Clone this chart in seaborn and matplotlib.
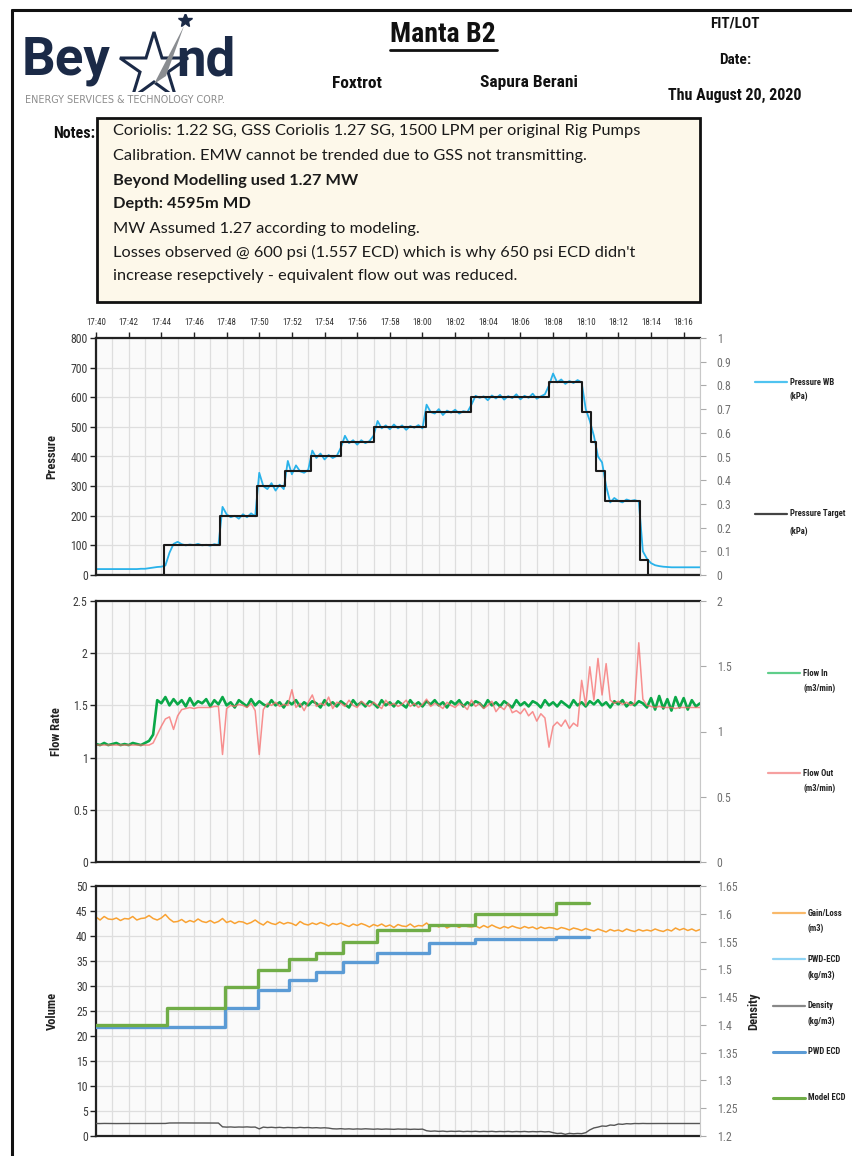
import numpy as np
import pandas as pd
import seaborn as sns
import matplotlib
matplotlib.use("Agg")
import matplotlib.pyplot as plt
from matplotlib.lines import Line2D
from matplotlib.patches import Rectangle, Polygon
from matplotlib.ticker import MultipleLocator

# ---------------- DATA (15-second samples, minutes after 17:40) ----------------
time_labels = ["17:40", "17:42", "17:44", "17:46", "17:48", "17:50", "17:52", "17:54",
               "17:56", "17:58", "18:00", "18:02", "18:04", "18:06", "18:08", "18:10",
               "18:12", "18:14", "18:16"]
time_label_minutes = [0, 2, 4, 6, 8, 10, 12, 14, 16, 18, 20, 22, 24, 26, 28, 30, 32, 34, 36]

pressure_wb = [
    20, 20, 20, 20,   20, 20, 20, 20,   20, 20, 20, 21,   21, 23, 25, 27,
    28, 32, 75, 105,  112, 104, 100, 103, 101, 105, 100, 102, 99, 104, 101, 230,
    205, 195, 200, 190, 205, 195, 208, 198, 345, 300, 290, 310, 285, 305, 290, 385,
    340, 370, 350, 345, 355, 420, 395, 410, 390, 405, 395, 402, 430, 470, 445, 455,
    440, 455, 445, 452, 470, 520, 495, 505, 492, 508, 495, 505, 490, 503, 497, 506,
    495, 575, 550, 545, 560, 540, 555, 548, 558, 545, 553, 550, 575, 605, 598, 603,
    590, 606, 596, 608, 592, 604, 597, 610, 593, 605, 598, 612, 595, 603, 610, 640,
    680, 650, 660, 645, 655, 648, 658, 650, 560, 520, 470, 400, 380, 300, 245, 260,
    250, 245, 255, 250, 253, 248, 80, 55,  40, 33, 30, 28,   27, 26, 26, 26,
    26, 26, 26, 26,   26]

target_minutes = [0, 4.15, 7.6, 9.85, 11.55, 13.2, 15.0, 17.05, 20.2, 23.0, 27.75,
                  29.8, 30.3, 30.65, 31.2, 33.3, 33.8, 37]
target_values = [0, 100, 200, 300, 350, 400, 450, 500, 550, 600, 650,
                 550, 450, 350, 250, 50, 0, 0]

flow_in = [
    1.13, 1.12, 1.14, 1.12, 1.13, 1.14, 1.12, 1.13, 1.12, 1.14, 1.13, 1.12,
    1.14, 1.16, 1.22, 1.55, 1.52, 1.58, 1.50, 1.56, 1.51, 1.55, 1.49, 1.57,
    1.50, 1.54, 1.52, 1.56, 1.49, 1.55, 1.51, 1.58, 1.50, 1.53, 1.48, 1.55,
    1.52, 1.49, 1.56, 1.50, 1.54, 1.51, 1.49, 1.55, 1.50, 1.53, 1.48, 1.54,
    1.51, 1.55, 1.49, 1.53, 1.50, 1.54, 1.52, 1.48, 1.55, 1.50, 1.53, 1.49,
    1.54, 1.51, 1.48, 1.55, 1.50, 1.53, 1.49, 1.54, 1.52, 1.48, 1.55, 1.50,
    1.53, 1.49, 1.54, 1.51, 1.48, 1.55, 1.50, 1.53, 1.49, 1.54, 1.51, 1.55,
    1.50, 1.53, 1.48, 1.54, 1.51, 1.55, 1.49, 1.53, 1.50, 1.54, 1.52, 1.48,
    1.55, 1.50, 1.53, 1.49, 1.54, 1.51, 1.48, 1.55, 1.50, 1.53, 1.49, 1.54,
    1.52, 1.48, 1.55, 1.50, 1.53, 1.49, 1.54, 1.51, 1.48, 1.55, 1.50, 1.53,
    1.49, 1.54, 1.51, 1.55, 1.50, 1.53, 1.48, 1.54, 1.51, 1.55, 1.49, 1.53,
    1.50, 1.54, 1.52, 1.48, 1.57, 1.46, 1.59, 1.47, 1.56, 1.45, 1.58, 1.48,
    1.57, 1.46, 1.55, 1.49, 1.52]

flow_out = [
    1.12, 1.12, 1.12, 1.12, 1.12, 1.12, 1.12, 1.12, 1.12, 1.12, 1.12, 1.12,
    1.12, 1.12, 1.14, 1.22, 1.30, 1.37, 1.39, 1.27, 1.40, 1.46, 1.47, 1.48,
    1.47, 1.48, 1.48, 1.48, 1.48, 1.49, 1.49, 1.03, 1.47, 1.50, 1.49, 1.51,
    1.50, 1.48, 1.52, 1.45, 1.03, 1.46, 1.52, 1.50, 1.53, 1.49, 1.51, 1.50,
    1.65, 1.48, 1.52, 1.45, 1.53, 1.60, 1.49, 1.52, 1.50, 1.58, 1.47, 1.53,
    1.52, 1.49, 1.55, 1.50, 1.48, 1.54, 1.51, 1.49, 1.53, 1.50, 1.47, 1.55,
    1.50, 1.52, 1.49, 1.51, 1.55, 1.49, 1.52, 1.48, 1.51, 1.56, 1.49, 1.52,
    1.50, 1.47, 1.53, 1.50, 1.48, 1.52, 1.50, 1.46, 1.55, 1.49, 1.52, 1.47,
    1.50, 1.54, 1.44, 1.49, 1.46, 1.52, 1.43, 1.45, 1.42, 1.47, 1.40, 1.44,
    1.35, 1.42, 1.38, 1.10, 1.30, 1.34, 1.30, 1.36, 1.28, 1.33, 1.30, 1.74,
    1.50, 1.87, 1.55, 1.95, 1.60, 1.90, 1.55, 1.52, 1.54, 1.51, 1.53, 1.50,
    1.52, 2.10, 1.56, 1.50, 1.49, 1.48, 1.49, 1.48, 1.48, 1.48, 1.47, 1.48,
    1.48, 1.48, 1.48, 1.48, 1.48]

gain_loss = [
    43.8, 43.2, 43.9, 43.4, 43.3, 43.6, 43.1, 43.5, 43.4, 43.9, 43.2, 43.5,
    43.6, 44.1, 43.5, 43.2, 43.6, 44.3, 43.4, 42.8, 42.9, 43.3, 42.7, 43.1,
    42.8, 43.4, 42.9, 42.7, 43.1, 42.6, 42.9, 43.5, 42.7, 43.0, 42.5, 42.9,
    42.8, 42.4, 42.7, 43.2, 42.6, 42.2, 42.9, 42.5, 42.3, 42.8, 42.4, 42.7,
    42.5, 42.1, 42.9, 42.4, 42.2, 42.6, 42.3, 42.7, 42.4, 42.0, 42.5, 42.3,
    42.6, 42.2, 41.9, 42.4, 42.1, 42.5, 42.2, 41.8, 42.3, 42.0, 42.4, 41.9,
    42.2, 41.7, 42.3, 42.0, 41.9, 42.4, 41.8, 42.1, 42.0, 42.6, 41.9, 42.2,
    41.8, 42.3, 41.6, 42.0, 42.1, 41.7, 42.2, 41.9, 41.8, 42.0, 41.6, 42.1,
    41.7, 42.2, 41.8, 41.5, 41.9, 41.6, 42.0, 41.7, 41.5, 41.9, 41.6, 41.8,
    41.4, 41.8, 41.5, 41.7, 41.6, 41.3, 41.7, 41.5, 41.2, 41.6, 41.4, 41.1,
    41.5, 41.2, 41.0, 41.4, 41.1, 40.8, 41.3, 41.0, 41.2, 40.9, 41.4, 41.1,
    40.9, 41.3, 41.0, 41.2, 41.0, 41.4, 41.1, 40.9, 41.3, 41.0, 41.6, 41.2,
    41.5, 41.1, 41.4, 41.0, 41.3]

density = [
    1.2225, 1.2224, 1.2226, 1.2225, 1.2225, 1.2224, 1.2225, 1.2226,
    1.2225, 1.2224, 1.2225, 1.2225, 1.2226, 1.2225, 1.2224, 1.2225,
    1.2225, 1.2226, 1.2234, 1.2235, 1.2234, 1.2235, 1.2234, 1.2233,
    1.2234, 1.2235, 1.2234, 1.2234, 1.2235, 1.2234, 1.2233, 1.2165,
    1.2160, 1.2163, 1.2158, 1.2162, 1.2160, 1.2164, 1.2159, 1.2161,
    1.2128, 1.2160, 1.2152, 1.2157, 1.2150, 1.2156, 1.2148, 1.2154,
    1.2151, 1.2147, 1.2155, 1.2149, 1.2153, 1.2146, 1.2150, 1.2144,
    1.2148, 1.2142, 1.2130, 1.2127, 1.2132, 1.2125, 1.2129, 1.2123,
    1.2128, 1.2124, 1.2130, 1.2126, 1.2122, 1.2127, 1.2121, 1.2126,
    1.2124, 1.2120, 1.2126, 1.2122, 1.2125, 1.2119, 1.2123, 1.2120,
    1.2124, 1.2095, 1.2085, 1.2090, 1.2083, 1.2088, 1.2080, 1.2086,
    1.2082, 1.2087, 1.2079, 1.2084, 1.2080, 1.2085, 1.2078, 1.2083,
    1.2079, 1.2084, 1.2077, 1.2082, 1.2078, 1.2083, 1.2076, 1.2081,
    1.2077, 1.2082, 1.2075, 1.2080, 1.2076, 1.2081, 1.2074, 1.2079,
    1.2060, 1.2045, 1.2050, 1.2030, 1.2048, 1.2040, 1.2046, 1.2042,
    1.2060, 1.2110, 1.2145, 1.2160, 1.2180, 1.2175, 1.2198, 1.2192,
    1.2216, 1.2210, 1.2222, 1.2218, 1.2225, 1.2223, 1.2226, 1.2224,
    1.2225, 1.2224, 1.2225, 1.2225, 1.2225, 1.2225, 1.2225, 1.2225,
    1.2225, 1.2225, 1.2225, 1.2225, 1.2225]

model_ecd_minutes = [0, 4.33, 7.9, 9.95, 11.8, 13.5, 15.16, 17.2, 20.4, 23.2, 28.2, 30.2]
model_ecd_values = [1.399, 1.430, 1.469, 1.499, 1.519, 1.530, 1.549, 1.570, 1.579, 1.600, 1.620, 1.620]
pwd_ecd_minutes = [0, 7.9, 9.95, 11.8, 13.5, 15.16, 17.2, 20.4, 23.2, 28.2, 30.2]
pwd_ecd_values = [1.397, 1.431, 1.463, 1.481, 1.496, 1.514, 1.530, 1.547, 1.555, 1.558, 1.558]

# ---------------- STYLE ----------------
sns.set_theme(style="white")
COND = ["Liberation Sans Narrow", "DejaVu Sans Condensed", "Roboto Condensed", "DejaVu Sans"]
plt.rcParams["font.family"] = COND
plt.rcParams["axes.unicode_minus"] = False

W, H = 852, 1156
fig = plt.figure(figsize=(W / 100, H / 100), dpi=100)
fig.patch.set_facecolor("white")


def fx(x):
    return x / W


def fy(y):
    return 1 - y / H


def axes_rect(left, top, right, bottom):
    return [fx(left), fy(bottom), fx(right) - fx(left), fy(top) - fy(bottom)]


t = np.arange(len(pressure_wb)) * 0.25
df_p = pd.DataFrame({"t": t, "wb": pressure_wb})
df_tg = pd.DataFrame({"t": target_minutes, "v": target_values})
df_f = pd.DataFrame({"t": t, "fin": flow_in, "fout": flow_out})
df_v = pd.DataFrame({"t": t, "gain": gain_loss, "dens": density})
df_m = pd.DataFrame({"t": model_ecd_minutes, "v": model_ecd_values})
df_w = pd.DataFrame({"t": pwd_ecd_minutes, "v": pwd_ecd_values})

GRID = "#dedede"
XMAX = 37.0


def style_axes(ax, axr, top_labels=False):
    ax.set_facecolor("#fafafa")
    ax.set_xlim(0, XMAX)
    ax.xaxis.set_major_locator(MultipleLocator(2))
    ax.xaxis.set_minor_locator(MultipleLocator(1))
    ax.grid(True, which="both", axis="x", color=GRID, lw=0.9)
    ax.grid(True, which="major", axis="y", color=GRID, lw=0.9)
    ax.set_axisbelow(True)
    for s in ["left", "bottom", "top"]:
        ax.spines[s].set_color("#222222")
        ax.spines[s].set_linewidth(1.6)
        axr.spines[s].set_visible(False)
    ax.spines["right"].set_visible(False)
    axr.spines["right"].set_color("#c8c8c8")
    axr.spines["right"].set_linewidth(0.8)
    ax.tick_params(axis="y", which="major", direction="out", length=4, width=1.0,
                   color="#222222", labelsize=8.5, labelcolor="#3a3a3a", pad=2, left=True)
    axr.tick_params(axis="y", direction="out", length=4, width=0.8, color="#aaaaaa",
                    labelsize=8.5, labelcolor="#707070", pad=8, right=True)
    if top_labels:
        ax.xaxis.tick_top()
        ax.set_xticks(time_label_minutes)
        ax.set_xticklabels(time_labels)
        ax.tick_params(axis="x", which="major", direction="out", length=4, width=1.0,
                       color="#222222", labelsize=6.5, labelcolor="#333333", pad=4, top=True)
        ax.tick_params(axis="x", which="minor", length=0)
    else:
        ax.tick_params(axis="x", which="both", length=0, labelbottom=False, labeltop=False)
    ax.set_xlabel("")
    axr.set_xlabel("")


# ---------------- PANEL 1: Pressure ----------------
ax1 = fig.add_axes(axes_rect(96, 338, 700, 575))
ax1r = ax1.twinx()
sns.lineplot(data=df_p, x="t", y="wb", ax=ax1, color="#29b2ea", lw=1.3, estimator=None)
sns.lineplot(data=df_tg, x="t", y="v", ax=ax1, color="#1a1a1a", lw=1.5, estimator=None,
             drawstyle="steps-post")
ax1.set_ylim(0, 800)
ax1.set_yticks(np.arange(0, 801, 100))
ax1r.set_ylim(0, 1)
ax1r.set_yticks(np.round(np.arange(0, 1.01, 0.1), 1))
ax1r.set_yticklabels(["0", "0.1", "0.2", "0.3", "0.4", "0.5", "0.6", "0.7", "0.8", "0.9", "1"])
style_axes(ax1, ax1r, top_labels=True)
ax1.set_ylabel("Pressure", fontsize=9, fontweight="bold", color="#222222")
ax1.yaxis.set_label_coords(-0.062, 0.5)
ax1r.set_ylabel("")

# ---------------- PANEL 2: Flow ----------------
ax2 = fig.add_axes(axes_rect(96, 601, 700, 862))
ax2r = ax2.twinx()
sns.lineplot(data=df_f, x="t", y="fin", ax=ax2, color="#0aa848", lw=1.9, estimator=None)
sns.lineplot(data=df_f, x="t", y="fout", ax=ax2, color="#f76b6b", lw=1.1, alpha=0.75,
             estimator=None)
ax2.set_ylim(0, 2.5)
ax2.set_yticks([0, 0.5, 1, 1.5, 2, 2.5])
ax2.set_yticklabels(["0", "0.5", "1", "1.5", "2", "2.5"])
ax2r.set_ylim(0, 2)
ax2r.set_yticks([0, 0.5, 1, 1.5, 2])
ax2r.set_yticklabels(["0", "0.5", "1", "1.5", "2"])
style_axes(ax2, ax2r)
ax2.set_ylabel("Flow Rate", fontsize=9, fontweight="bold", color="#222222")
ax2.yaxis.set_label_coords(-0.055, 0.5)
ax2r.set_ylabel("")

# ---------------- PANEL 3: Volume / Density ----------------
ax3 = fig.add_axes(axes_rect(96, 886, 700, 1136))
ax3r = ax3.twinx()
sns.lineplot(data=df_v, x="t", y="gain", ax=ax3, color="#f9a233", lw=1.1, estimator=None)
sns.lineplot(data=df_v, x="t", y="dens", ax=ax3r, color="#555555", lw=1.0, estimator=None)
sns.lineplot(data=df_w, x="t", y="v", ax=ax3r, color="#5b9bd5", lw=2.4, estimator=None,
             drawstyle="steps-post")
sns.lineplot(data=df_m, x="t", y="v", ax=ax3r, color="#70ad47", lw=2.4, estimator=None,
             drawstyle="steps-post")
ax3.set_ylim(0, 50)
ax3.set_yticks(np.arange(0, 51, 5))
ax3r.set_ylim(1.2, 1.65)
rt = [1.2, 1.25, 1.3, 1.35, 1.4, 1.45, 1.5, 1.55, 1.6, 1.65]
ax3r.set_yticks(rt)
ax3r.set_yticklabels(["1.2", "1.25", "1.3", "1.35", "1.4", "1.45", "1.5", "1.55", "1.6", "1.65"])
style_axes(ax3, ax3r)
ax3.set_ylabel("Volume", fontsize=9, fontweight="bold", color="#222222")
ax3.yaxis.set_label_coords(-0.062, 0.5)
ax3r.set_ylabel("Density", fontsize=9, fontweight="bold", color="#222222")
ax3r.yaxis.set_label_coords(1.078, 0.5)

# ---------------- LEGENDS (right column) ----------------
LEG_FONT = dict(fontsize=6.2, fontweight="bold", color="#222222", va="center", ha="left")


def legend_entry(x0, x1, y, color, lines, lw=1.6, spacing=15):
    fig.add_artist(Line2D([fx(x0), fx(x1)], [fy(y), fy(y)], color=color, lw=lw))
    for i, s in enumerate(lines):
        fig.text(fx(x1 + 3), fy(y + i * spacing), s, **LEG_FONT)


legend_entry(755, 787, 382, "#4fc3f0", ["Pressure WB", "(kPa)"], spacing=14)
legend_entry(755, 787, 514, "#444444", ["Pressure Target", "(kPa)"], spacing=17)
legend_entry(768, 800, 673, "#5fce8a", ["Flow In", "(m3/min)"], spacing=15)
legend_entry(768, 800, 773, "#f6a0a0", ["Flow Out", "(m3/min)"], spacing=15)
legend_entry(773, 805, 913, "#f9b96a", ["Gain/Loss", "(m3)"], spacing=15)
legend_entry(773, 805, 959, "#8fd3f4", ["PWD-ECD", "(kg/m3)"], spacing=16)
legend_entry(773, 805, 1006, "#888888", ["Density", "(kg/m3)"], spacing=15)
legend_entry(773, 805, 1052, "#5b9bd5", ["PWD ECD"], lw=2.2)
legend_entry(773, 805, 1098, "#70ad47", ["Model ECD"], lw=2.2)

# ---------------- HEADER ----------------
# page border (top and left)
fig.add_artist(Line2D([fx(12), 1.0], [fy(10), fy(10)], color="#111111", lw=2.2))
fig.add_artist(Line2D([fx(12), fx(12)], [fy(10), 0.0], color="#111111", lw=2.2))

# logo
NAVY = "#1b2a47"
fig.text(fx(22), fy(61), "Bey", fontsize=38, fontweight="bold", color=NAVY,
         family=["Roboto", "DejaVu Sans"], va="center", ha="left")
fig.text(fx(176), fy(61), "nd", fontsize=38, fontweight="bold", color=NAVY,
         family=["Roboto", "DejaVu Sans"], va="center", ha="left")
star_ax = fig.add_axes(axes_rect(118, 14, 200, 92))
star_ax.set_xlim(0, 82)
star_ax.set_ylim(78, 0)
star_ax.axis("off")
big_star = np.array([[36, 18], [44, 44], [70, 44], [50, 58], [58, 84], [36, 68],
                     [14, 84], [22, 58], [2, 44], [28, 44]])
star_ax.add_patch(Polygon(big_star, closed=True, facecolor="none", edgecolor=NAVY, lw=2.2))
star_ax.add_patch(Polygon([[36, 70], [66, 12], [48, 62]], closed=True,
                          facecolor="#8a8d91", edgecolor="none"))
star_ax.plot([67], [6], marker="*", markersize=10, color=NAVY)
fig.text(fx(25), fy(100), "ENERGY SERVICES & TECHNOLOGY CORP.", fontsize=6.9,
         color="#8c8c8c", family=["DejaVu Sans"], va="center", ha="left")

HFONT = dict(color="#111111", va="center", ha="center")
fig.text(fx(443), fy(34), "Manta B2", fontsize=20, fontweight="bold", **HFONT)
fig.add_artist(Line2D([fx(390), fx(497)], [fy(50), fy(50)], color="#111111", lw=2.0))
fig.text(fx(357), fy(83), "Foxtrot", fontsize=12.5, fontweight="bold", **HFONT)
fig.text(fx(529), fy(83), "Sapura Berani", fontsize=12.5, fontweight="bold", **HFONT)
fig.text(fx(735), fy(23), "FIT/LOT", fontsize=11, fontweight="bold", **HFONT)
fig.text(fx(735), fy(60), "Date:", fontsize=11, fontweight="bold", **HFONT)
fig.text(fx(735), fy(95), "Thu August 20, 2020", fontsize=11.5, fontweight="bold", **HFONT)

# notes box
fig.add_artist(Rectangle((fx(97), fy(302)), fx(700) - fx(97), fy(118) - fy(302),
                         transform=fig.transFigure, facecolor="#fdf8ea",
                         edgecolor="#111111", lw=2.0))
fig.text(fx(53), fy(133), "Notes:", fontsize=11.5, fontweight="bold", color="#111111",
         va="center", ha="left")
notes_lines = [
    ("Coriolis: 1.22 SG, GSS Coriolis 1.27 SG, 1500 LPM per original Rig Pumps", "normal"),
    ("Calibration. EMW cannot be trended due to GSS not transmitting.", "normal"),
    ("Beyond Modelling used 1.27 MW", "bold"),
    ("Depth: 4595m MD", "bold"),
    ("MW Assumed 1.27 according to modeling.", "normal"),
    ("Losses observed @ 600 psi (1.557 ECD) which is why 650 psi ECD didn't", "normal"),
    ("increase resepctively - equivalent flow out was reduced.", "normal"),
]
note_y = [131, 156, 181, 204, 229, 252, 276]
for (s, w), y in zip(notes_lines, note_y):
    fig.text(fx(113), fy(y), s, fontsize=11.8, fontweight=w, color="#1a1a1a",
             family=["Lato", "DejaVu Sans"], va="center", ha="left")

fig.savefig("out.png", dpi=100, facecolor="white")
